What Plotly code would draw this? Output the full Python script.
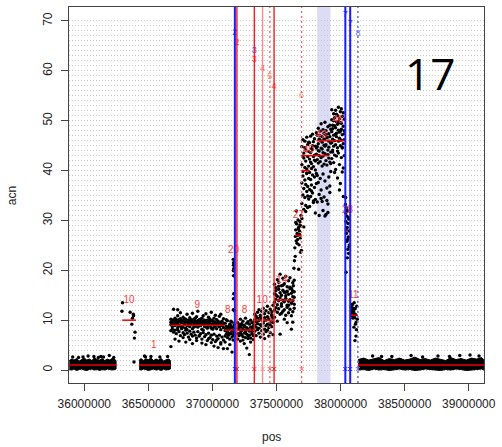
import plotly.graph_objects as go

KB = 1000  # positions below are given in kb

# ---------------- low-copy regions (dense probe bands): position, lower, upper acn
A_kb = [35883, 35900, 35920, 35940, 35960, 35980, 36000, 36020, 36040, 36060,
        36080, 36100, 36120, 36140, 36160, 36180, 36200, 36220, 36240, 36248]
A_lo = [0.1, 0.0, 0.2, -0.1, 0.1, 0.2, 0.0, -0.1, 0.1, 0.2,
        0.0, 0.1, -0.1, 0.1, 0.0, 0.2, 0.1, 0.0, 0.1, 0.2]
A_hi = [1.9, 2.2, 2.0, 2.3, 1.8, 2.1, 2.4, 2.0, 2.2, 1.9,
        2.5, 2.1, 2.0, 2.3, 1.9, 2.2, 2.0, 2.4, 2.1, 1.9]

C_kb = [36428, 36445, 36460, 36480, 36500, 36520, 36540, 36560, 36580, 36600,
        36620, 36640, 36660, 36672]
C_lo = [0.1, 0.0, 0.2, 0.1, -0.1, 0.1, 0.2, 0.0, 0.1, -0.1, 0.2, 0.0, 0.1, 0.2]
C_hi = [2.0, 2.3, 1.9, 2.2, 2.1, 2.4, 1.9, 2.2, 2.0, 2.3, 1.8, 2.1, 2.2, 1.9]

N_kb = [38137, 38180, 38220, 38260, 38300, 38340, 38380, 38420, 38460, 38500,
        38540, 38580, 38620, 38660, 38700, 38740, 38780, 38820, 38860, 38900,
        38940, 38980, 39020, 39060, 39100, 39117]
N_lo = [0.0, 0.1, -0.1, 0.2, 0.0, 0.1, -0.1, 0.1, 0.2, 0.0, 0.1, -0.1, 0.0,
        0.2, 0.1, 0.0, -0.1, 0.1, 0.0, 0.2, 0.1, -0.1, 0.0, 0.1, 0.2, 0.0]
N_hi = [2.1, 2.4, 2.0, 2.2, 2.5, 1.9, 2.3, 2.1, 2.4, 2.0, 2.2, 2.6, 2.1,
        2.3, 2.0, 2.4, 2.2, 1.9, 2.5, 2.1, 2.3, 2.0, 2.4, 2.2, 2.5, 2.1]

# stray probes above the low-copy bands
low_kb = [35910, 35955, 36030, 36075, 36110, 36150, 36195, 36230, 35990, 36130,
          36470, 36478, 36520, 36590, 36650,
          38250, 38400, 38550, 38640, 38760, 38850, 38930, 39010, 39080, 38320]
low_acn = [2.6, 2.5, 2.8, 2.7, 2.5, 2.6, 2.9, 2.5, 2.6, 2.7,
           2.8, 2.6, 2.7, 2.6, 2.7,
           2.8, 2.7, 2.9, 2.6, 2.8, 2.7, 2.9, 3.0, 2.8, 2.7]

# ---------------- probe clouds (shared positions, several probe rows each)
B_kb = [36294, 36298, 36358, 36383, 36384, 36371, 36396, 36391, 36388, 36376]
B_acn = [11.8, 13.5, 11.6, 11.2, 10.9, 9.2, 7.6, 6.4, 1.6, 10.4]

D_kb = [36676, 36687, 36697, 36708, 36718, 36729, 36739, 36750, 36760, 36771,
        36781, 36792, 36802, 36813, 36823, 36834, 36844, 36855, 36865, 36876,
        36886, 36897, 36907, 36918, 36928, 36939, 36949, 36960, 36970, 36981,
        36991, 37002, 37012, 37023, 37033, 37044, 37054, 37065, 37075, 37086]
D_r1 = [10.2, 9.8, 12.2, 10.4, 9.6, 10.9, 10.1, 11.5, 9.9, 10.6, 10.3, 9.7, 11.2, 10.0,
        10.5, 9.8, 11.4, 10.2, 9.9, 10.7, 11.8, 10.1, 9.6, 10.4, 10.9, 10.0, 11.3, 9.7,
        10.6, 10.2, 11.6, 9.9, 10.4, 11.0, 10.1, 9.5, 10.8, 11.2, 9.8, 10.3]
D_r2 = [9.1, 8.7, 9.4, 8.9, 9.2, 8.5, 9.0, 8.8, 9.5, 8.6, 9.3, 8.4, 8.9, 9.2,
        8.7, 9.6, 8.3, 9.0, 8.8, 9.4, 8.6, 9.1, 8.9, 8.2, 9.3, 8.7, 9.0, 8.5,
        9.2, 8.8, 8.4, 9.1, 8.6, 8.9, 8.3, 9.0, 8.7, 8.1, 8.9, 8.5]
D_r3 = [7.9, 8.2, 7.6, 8.0, 7.3, 8.1, 7.7, 6.9, 8.3, 7.5, 7.1, 8.0, 7.4, 6.6,
        7.8, 7.2, 6.8, 7.6, 7.0, 6.4, 7.7, 6.9, 7.3, 6.2, 7.5, 6.7, 7.1, 5.9,
        7.4, 6.5, 7.0, 6.1, 7.2, 5.7, 6.8, 6.3, 7.0, 5.5, 6.6, 6.0]
D_r4 = [4.7, 9.6, 10.0, 6.2, 9.3, 12.1, 5.8, 9.7, 8.5, 6.5, 9.9, 5.6, 8.1, 9.5,
        6.1, 10.1, 5.3, 8.6, 9.8, 5.9, 9.4, 6.8, 10.2, 5.4, 8.0, 9.6, 5.1, 8.4,
        6.3, 9.9, 5.5, 8.2, 4.8, 9.4, 6.0, 4.5, 8.7, 5.2, 9.1, 4.3]
D_r5 = [9.6, 10.0, 9.3, 9.7, 10.1, 9.4, 9.8, 10.3, 9.5, 9.9, 9.2, 10.2, 9.6, 9.4,
        10.0, 9.1, 9.7, 9.5, 10.4, 9.2, 9.9, 9.6, 10.1, 9.3, 9.8, 9.5, 9.2, 10.0,
        9.6, 9.4, 9.9, 9.3, 9.7, 9.5, 9.2, 9.8, 9.4, 9.6, 9.0, 9.3]

E_kb = [37099, 37108, 37117, 37126, 37135, 37144, 37153, 37162, 37170]
E_r1 = [9.4, 8.8, 9.9, 8.5, 9.2, 8.9, 9.6, 8.6, 9.1]
E_r2 = [7.9, 8.3, 7.6, 8.1, 7.4, 8.4, 7.8, 8.0, 7.5]
E_r3 = [6.8, 7.2, 6.5, 7.0, 6.2, 7.3, 6.6, 7.1, 6.9]
E_r4 = [5.6, 10.1, 4.3, 8.7, 5.1, 9.8, 3.6, 6.0, 11.9]

F_kb = [37163, 37165, 37166, 37164, 37165, 37166, 37164, 37163, 37165]
F_acn = [22.2, 21.5, 20.3, 19.9, 18.9, 15.3, 14.3, 12.1, 21.0]

G_kb = [37198, 37208, 37218, 37228, 37238, 37248, 37258, 37268, 37278, 37288,
        37298, 37308, 37318, 37325]
G_r1 = [9.5, 9.1, 10.2, 9.3, 9.8, 9.0, 10.4, 9.4, 9.7, 9.2, 10.0, 9.5, 8.9, 9.6]
G_r2 = [8.4, 8.1, 8.6, 7.9, 8.3, 8.7, 8.0, 8.5, 8.2, 7.8, 8.6, 8.1, 8.4, 7.9]
G_r3 = [7.3, 6.9, 7.5, 7.1, 6.7, 7.4, 6.5, 7.2, 6.8, 7.0, 6.4, 7.3, 6.9, 7.1]
G_r4 = [6.2, 8.9, 5.8, 9.0, 6.0, 5.3, 7.7, 4.4, 6.3, 3.1, 5.6, 7.8, 6.1, 8.8]

H_kb = [37330, 37341, 37352, 37363, 37374, 37385, 37396, 37407, 37418, 37429,
        37440, 37451, 37462, 37473]
H_r1 = [11.2, 10.8, 11.6, 12.1, 11.0, 11.8, 12.4, 11.3, 11.9, 12.8, 11.5, 12.2, 11.7, 13.0]
H_r2 = [10.1, 9.7, 10.4, 9.9, 10.6, 10.2, 9.8, 10.5, 10.0, 10.7, 10.3, 9.6, 10.8, 10.4]
H_r3 = [9.0, 8.6, 9.3, 8.4, 9.1, 8.8, 9.4, 8.2, 8.9, 9.2, 8.5, 9.0, 8.7, 9.5]
H_r4 = [7.8, 6.9, 8.1, 7.4, 6.6, 7.9, 7.2, 6.3, 7.7, 8.0, 6.8, 7.5, 11.1, 7.1]

I_kb = [37484, 37495, 37506, 37517, 37528, 37539, 37550, 37561, 37572, 37583,
        37594, 37605, 37616, 37627, 37638]
I_r1 = [17.2, 16.5, 18.1, 17.6, 19.2, 16.9, 18.4, 17.3, 18.8, 16.7, 17.9, 18.5, 16.4, 17.5, 18.0]
I_r2 = [15.3, 15.9, 14.8, 16.2, 15.5, 15.0, 16.0, 15.6, 14.9, 15.8, 15.2, 16.3, 15.4, 14.7, 15.7]
I_r3 = [13.6, 14.2, 13.1, 13.9, 14.5, 13.3, 14.0, 13.7, 14.4, 13.0, 13.8, 14.1, 13.4, 13.9, 13.2]
I_r4 = [12.0, 12.5, 11.6, 12.3, 11.2, 12.8, 11.8, 12.1, 11.0, 12.6, 11.5, 12.2, 10.9, 11.7, 12.4]
I_r5 = [10.6, 15.1, 9.8, 16.8, 7.2, 11.4, 17.0, 10.2, 15.6, 9.5, 13.0, 16.6, 8.2, 9.6, 14.6]

J_kb = [37625, 37632, 37636, 37640, 37643, 37647, 37650, 37654, 37657, 37661,
        37665, 37668, 37672, 37676, 37679, 37683, 37686, 37690, 37694, 37646,
        37655, 37664, 37673, 37682, 37691, 37650, 37660, 37670, 37680, 37688]
J_acn = [15.9, 16.9, 20.4, 21.9, 24.5, 26.8, 28.1, 25.9, 29.3, 27.4,
         26.2, 30.1, 28.6, 25.1, 27.9, 29.8, 26.5, 28.9, 24.0, 22.8,
         31.9, 27.0, 20.2, 29.1, 31.0, 29.6, 25.4, 28.3, 27.2, 23.6]

K_kb = [37698, 37706, 37713, 37721, 37728, 37736, 37743, 37751, 37758, 37766,
        37773, 37781, 37788, 37796, 37803, 37811, 37818, 37826, 37833, 37841,
        37848, 37856, 37863, 37871, 37878, 37886, 37893, 37901, 37908, 37916,
        37923, 37931, 37938, 37946, 37953, 37961, 37968, 37976, 37983, 37991,
        37998, 38006, 38013, 38021, 38029]
K_r1 = [44.8, 46.2, 43.5, 45.9, 44.1, 46.7, 45.2, 43.8,
        45.6, 46.9, 44.4, 47.3, 45.8, 46.4, 44.9, 47.6,
        47.1, 48.5, 46.3, 47.9, 49.4, 46.8, 48.2, 47.5, 49.7, 48.0, 46.6, 48.8, 47.4, 49.1, 48.3,
        50.2, 49.1, 51.4, 50.6, 52.1, 49.8, 51.0, 52.7, 50.4, 51.8, 49.5, 50.9, 51.6, 50.3]
K_r2 = [41.2, 39.8, 42.5, 40.6, 41.9, 39.4, 42.8, 40.9,
        42.3, 43.6, 41.4, 44.2, 42.8, 43.1, 41.9, 44.5,
        44.8, 45.4, 43.9, 46.1, 44.5, 45.7, 43.6, 46.3, 44.9, 45.2, 46.6, 44.1, 45.9, 46.8, 45.5,
        47.8, 48.4, 47.1, 49.0, 48.6, 47.5, 49.3, 48.1, 47.7, 49.6, 48.3, 47.2, 48.9, 48.0]
K_r3 = [37.5, 38.9, 36.4, 38.1, 37.2, 39.5, 36.8, 38.4,
        39.6, 38.2, 40.4, 39.1, 40.8, 38.7, 40.1, 39.4,
        42.2, 41.5, 43.0, 41.8, 42.6, 40.9, 42.9, 41.3, 43.4, 42.0, 41.1, 43.2, 42.5, 41.7, 43.7,
        45.6, 46.3, 44.9, 46.0, 45.2, 46.8, 44.6, 45.9, 46.5, 45.0, 46.1, 44.7, 45.4, 46.2]
K_r4 = [33.4, 35.1, 32.2, 34.6, 33.0, 35.8, 32.6, 34.3,
        36.2, 34.8, 37.1, 35.5, 33.9, 36.6, 34.2, 37.4,
        39.0, 37.6, 35.2, 38.4, 36.1, 33.8, 39.3, 34.7, 37.9, 31.2, 36.5, 33.3, 38.7, 35.6, 39.8,
        42.4, 43.7, 41.6, 43.1, 40.2, 42.9, 38.5, 43.5, 41.2, 37.4, 42.6, 39.7, 34.8, 43.0]
K_r5 = [30.4, 42.9, 28.7, 44.6, 31.8, 40.3, 34.9, 45.7,
        32.8, 41.7, 35.9, 45.0, 33.6, 42.1, 31.5, 43.3,
        33.7, 44.0, 31.0, 47.0, 34.4, 44.3, 32.0, 45.1, 30.9, 47.2, 34.0, 31.6, 44.7, 36.9, 41.4,
        52.2, 44.1, 50.0, 39.6, 47.3, 51.3, 43.9, 49.9, 36.1, 47.9, 52.4, 44.5, 40.5, 47.4]

L_kb = [38038, 38040, 38042, 38044, 38046, 38048, 38050, 38052, 38054, 38056, 38058, 38060,
        38062, 38064, 38066, 38068, 38040, 38045, 38050, 38055, 38060, 38065, 38043, 38053]
L_acn = [33.2, 31.5, 29.8, 32.6, 27.4, 30.9, 25.8, 28.6, 31.9, 24.2, 29.4, 26.7,
         23.4, 30.3, 27.9, 25.1, 34.6, 28.1, 32.1, 26.2, 30.6, 24.7, 19.6, 22.5]

M_kb = [38082, 38086, 38090, 38094, 38098, 38102, 38106, 38110, 38114, 38118, 38122, 38126,
        38130, 38084, 38092, 38100, 38108, 38116, 38124, 38088, 38104, 38120, 38096, 38112]
M_acn = [12.6, 11.4, 13.2, 10.8, 12.1, 11.7, 13.5, 10.5, 12.3, 11.1, 9.6, 12.8,
         10.2, 11.9, 10.9, 12.4, 11.3, 9.2, 8.1, 13.0, 8.6, 6.8, 10.4, 5.9]

# ---------------- segmentation
seg_start_kb = [35881, 36296, 36427, 36673, 37096, 37160, 37196, 37327, 37481, 37642,
                37696, 37696, 37812, 38035, 38081, 38135]
seg_end_kb = [36250, 36404, 36673, 37096, 37173, 37175, 37327, 37481, 37642, 37696,
              37760, 37911, 38035, 38058, 38135, 39119]
seg_acn = [1, 10, 1, 9, 8, 20, 8, 10, 14, 27, 40, 43, 46, 28, 11, 1]
seg_label = ["", "10", "1", "9", "8", "20", "8", "10", "14", "27", "40", "43", "46", "28", "11", ""]
seg_label_kb = [36065, 36350, 36542, 36881, 37119, 37165, 37250, 37388, 37542, 37671,
                37750, 37850, 37978, 38055, 38100, 38627]

# ---------------- breakpoints
bp_kb = [37175, 37191, 37327, 37391, 37448, 37481, 37696, 38037, 38075, 38135]
bp_kind = ["blue", "red", "red", "pink", "reddot", "red", "reddot", "blue", "blue", "bluedot"]
bp_tag = ["2", "2", "3", "4", "5", "4", "6", "7", "7", "8"]
extra_tag_kb, extra_tag = [37327], ["3"]          # blue call sharing a red breakpoint
region_kb = (37817, 37921)                        # highlighted region

x_ticks = [36000000, 36500000, 37000000, 37500000, 38000000, 38500000, 39000000]
y_ticks = [0, 10, 20, 30, 40, 50, 60, 70]

# ---------------- styles
kind_style = {
    "blue": dict(color="#1a1aff", width=2.0, dash="solid"),
    "red": dict(color="#ff1a1a", width=1.4, dash="solid"),
    "pink": dict(color="#ff8c8c", width=1.4, dash="solid"),
    "reddot": dict(color="#ff5555", width=1.2, dash="2px,3px"),
    "bluedot": dict(color="#6f6fff", width=1.6, dash="2px,3px"),
}
tag_color = {"blue": "#3b3bff", "red": "#ff3030", "pink": "#ff5050",
             "reddot": "#f0905a", "bluedot": "#6f6fff"}
tag_y = [67.6, 65.6, 62.2, 60.4, 58.8, 56.8, 55.0, 71.2, 69.4, 67.4]
extra_tag_y = [64.0]
LABEL_OFFSET = 4

fig = go.Figure()

# highlighted region
fig.add_shape(type="rect", x0=region_kb[0] * KB, x1=region_kb[1] * KB, yref="paper",
              y0=0, y1=1, fillcolor="#dcdcf6", line_width=0, layer="between")

# dense low-copy bands
for xs, lo, hi in [(A_kb, A_lo, A_hi), (C_kb, C_lo, C_hi), (N_kb, N_lo, N_hi)]:
    fig.add_trace(go.Scatter(
        x=[v * KB for v in xs + xs[::-1]], y=hi + lo[::-1], mode="lines",
        fill="toself", fillcolor="black", line=dict(color="black", width=1),
        hoverinfo="skip", showlegend=False))

# probes
clouds = [
    (low_kb, [low_acn]), (B_kb, [B_acn]),
    (D_kb, [D_r1, D_r2, D_r3, D_r4, D_r5]),
    (E_kb, [E_r1, E_r2, E_r3, E_r4]), (F_kb, [F_acn]),
    (G_kb, [G_r1, G_r2, G_r3, G_r4]), (H_kb, [H_r1, H_r2, H_r3, H_r4]),
    (I_kb, [I_r1, I_r2, I_r3, I_r4, I_r5]), (J_kb, [J_acn]),
    (K_kb, [K_r1, K_r2, K_r3, K_r4, K_r5]), (L_kb, [L_acn]), (M_kb, [M_acn]),
]
px_, py_ = [], []
for xs, rows in clouds:
    for ys in rows:
        assert len(xs) == len(ys)
        px_ += [v * KB for v in xs]
        py_ += ys
fig.add_trace(go.Scatter(x=px_, y=py_, mode="markers",
                         marker=dict(color="black", size=3.4, line_width=0),
                         hoverinfo="skip", showlegend=False))

# segment means
sx, sy = [], []
for a, b, v in zip(seg_start_kb, seg_end_kb, seg_acn):
    sx += [a * KB, b * KB, None]
    sy += [v, v, None]
fig.add_trace(go.Scatter(x=sx, y=sy, mode="lines", line=dict(color="#ee0000", width=1.5),
                         hoverinfo="skip", showlegend=False))
fig.add_trace(go.Scatter(
    x=[v * KB for v, t in zip(seg_label_kb, seg_label) if t],
    y=[a + LABEL_OFFSET for a, t in zip(seg_acn, seg_label) if t],
    text=[t for t in seg_label if t], mode="text",
    textfont=dict(family="Liberation Sans, Arial", size=10, color="#ff3b3b"),
    hoverinfo="skip", showlegend=False))

# breakpoints
for x, k in zip(bp_kb, bp_kind):
    st = kind_style[k]
    fig.add_shape(type="line", x0=x * KB, x1=x * KB, yref="paper", y0=0, y1=1,
                  line=dict(color=st["color"], width=st["width"], dash=st["dash"]),
                  layer="above")
fig.add_trace(go.Scatter(
    x=[v * KB for v in bp_kb + extra_tag_kb], y=tag_y + extra_tag_y,
    text=bp_tag + extra_tag, mode="text",
    textfont=dict(family="Liberation Sans, Arial", size=9,
                  color=[tag_color[k] for k in bp_kind] + [tag_color["blue"]]),
    hoverinfo="skip", showlegend=False))
fig.add_trace(go.Scatter(
    x=[v * KB for v in bp_kb], y=[0.2] * len(bp_kb), mode="markers",
    marker=dict(symbol="x-thin", size=4,
                line=dict(width=1, color=[kind_style[k]["color"] for k in bp_kind])),
    hoverinfo="skip", showlegend=False))

axis_font = dict(family="Liberation Sans, Arial", size=12, color="#222")
fig.update_layout(
    width=502, height=447, margin=dict(l=69, r=12, t=6, b=64),
    paper_bgcolor="white", plot_bgcolor="white", showlegend=False,
    font=axis_font,
)
fig.update_xaxes(
    range=[35880800, 39119000], tickvals=x_ticks, ticktext=[str(v) for v in x_ticks],
    ticks="outside", ticklen=7, tickcolor="#444", tickfont=axis_font,
    showline=True, linecolor="#444", linewidth=1, mirror=True,
    showgrid=False, zeroline=False, ticklabelstandoff=3,
)
fig.update_yaxes(
    range=[-2.6, 72.8], tickvals=y_ticks, ticktext=[str(v) for v in y_ticks],
    tickangle=-90, ticks="outside", ticklen=7, tickcolor="#444", tickfont=axis_font,
    showline=True, linecolor="#444", linewidth=1, mirror=True, zeroline=False,
    showgrid=True, gridcolor="#c8c8c8", gridwidth=1, griddash="1px,2px",
    minor=dict(tickvals=list(range(0, 71)), showgrid=True, gridcolor="#c8c8c8",
               gridwidth=1, griddash="1px,2px", ticks=""),
    ticklabelstandoff=4,
)

fig.add_annotation(text="acn", xref="paper", yref="paper", x=-0.1354, y=0.4987,
                   xanchor="center", yanchor="middle",
                   textangle=-90, showarrow=False, font=axis_font)
fig.add_annotation(text="pos", xref="paper", yref="paper", x=0.489, y=-0.1432,
                   xanchor="center", yanchor="middle", showarrow=False, font=axis_font)
fig.add_annotation(text="17", xref="paper", yref="paper", x=0.869, y=0.825,
                   xanchor="center", yanchor="middle", showarrow=False,
                   font=dict(family="Open Sans", size=44, color="black"))

fig.write_html("out.html")
